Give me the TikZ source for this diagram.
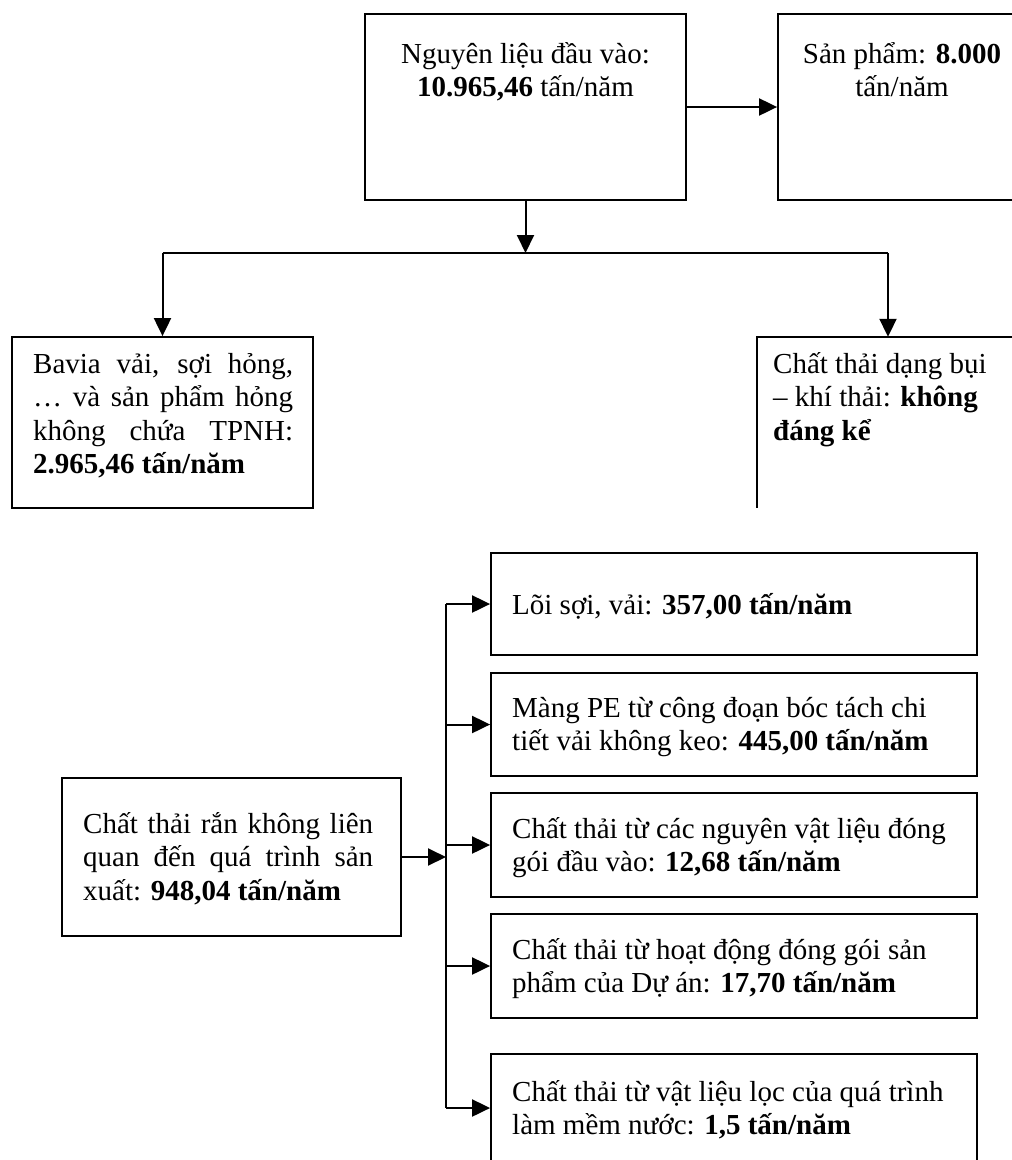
\documentclass[tikz,border=0pt]{standalone}
\usepackage{fontspec}
\setmainfont{Liberation Serif}
\usetikzlibrary{arrows.meta}
\newcommand\bodyfont{\fontsize{29}{33.5}\selectfont}
\begin{document}
\begin{tikzpicture}[x=1pt,y=-1pt,
  box/.style={draw, line width=1.8pt, rectangle, inner sep=0pt},
  openbox/.style={rectangle, inner sep=0pt},
  edge/.style={line width=1.8pt},
  txt/.style={inner sep=0pt, font=\bodyfont},
  wire/.style={line width=2pt},
  conn/.style={line width=2pt, -{Triangle[length=18pt,width=17pt]}}]
\useasboundingbox (0,0) rectangle (1012,1160);
\fill[white] (0,0) rectangle (1012,1160);
\clip (0,0) rectangle (1012,1160);

% upper part: raw material, product and the two first outputs
\node[box, minimum width=321pt, minimum height=186pt] (A) at (525.5,107) {};
\node[box, minimum width=248pt, minimum height=186pt] (B) at (902,107) {};
\node[box, minimum width=301pt, minimum height=171pt] (C) at (162.5,422.5) {};
\node[openbox, minimum width=262pt, minimum height=171pt] (D) at (888,422.5) {};
\draw[edge] (D.north east) -- (D.north west) -- (D.south west);

\node[txt, anchor=base] (At) at (525.5,63) {\parbox[t]{320pt}{\centering
  Nguyên liệu đầu vào:\\\textbf{10.965,46} tấn/năm}};
\node[txt, anchor=base] (Bt) at (902,63) {\parbox[t]{246pt}{\centering
  Sản phẩm: \textbf{8.000}\\tấn/năm}};
\node[txt, anchor=base west] (Ct) at (33,373) {\parbox[t]{260pt}{%
  \makebox[260pt][s]{Bavia vải, sợi hỏng,}\\
  \makebox[260pt][s]{… và sản phẩm hỏng}\\
  \makebox[260pt][s]{không chứa TPNH:}\\
  \textbf{2.965,46 tấn/năm}}};
\node[txt, anchor=base west] (Dt) at (773,373) {\parbox[t]{240pt}{\raggedright
  Chất thải dạng bụi\\– khí thải: \textbf{không}\\\textbf{đáng kể}}};

\coordinate (j) at (525.5,253);
\coordinate (jl) at (162.5,253);
\coordinate (jr) at (888,253);
\draw[conn] (A) -- (B);
\draw[conn] (A.south) -- (j);
\draw[wire] (jl) -- (jr);
\draw[conn] (jl) -- (C.north);
\draw[conn] (jr) -- (D.north);

% lower part: solid waste and its breakdown
\node[box, minimum width=339pt, minimum height=158pt] (E) at (231.5,857) {};
\node[box, minimum width=486pt, minimum height=102pt] (F1) at (734,604) {};
\node[box, minimum width=486pt, minimum height=103pt] (F2) at (734,724.5) {};
\node[box, minimum width=486pt, minimum height=104pt] (F3) at (734,845) {};
\node[box, minimum width=486pt, minimum height=104pt] (F4) at (734,966) {};
\node[box, minimum width=486pt, minimum height=108pt] (F5) at (734,1108) {};

\node[txt, anchor=base west] (Et) at (83,833) {\parbox[t]{300pt}{%
  \makebox[290pt][s]{Chất thải rắn không liên}\\
  \makebox[290pt][s]{quan đến quá trình sản}\\
  xuất: \textbf{948,04 tấn/năm}}};
\node[txt, anchor=base west] (F1t) at (512,614) {\parbox[t]{470pt}{\raggedright
  Lõi sợi, vải: \textbf{357,00 tấn/năm}}};
\node[txt, anchor=base west] (F2t) at (512,717) {\parbox[t]{470pt}{\raggedright
  Màng PE từ công đoạn bóc tách chi\\tiết vải không keo: \textbf{445,00 tấn/năm}}};
\node[txt, anchor=base west] (F3t) at (512,838) {\parbox[t]{470pt}{\raggedright
  Chất thải từ các nguyên vật liệu đóng\\gói đầu vào: \textbf{12,68 tấn/năm}}};
\node[txt, anchor=base west] (F4t) at (512,959) {\parbox[t]{470pt}{\raggedright
  Chất thải từ hoạt động đóng gói sản\\phẩm của Dự án: \textbf{17,70 tấn/năm}}};
\node[txt, anchor=base west] (F5t) at (512,1101) {\parbox[t]{470pt}{\raggedright
  Chất thải từ vật liệu lọc của quá trình\\làm mềm nước: \textbf{1,5 tấn/năm}}};

\coordinate (bt) at (446,604);
\coordinate (bb) at (446,1108);
\draw[wire] (bt) -- (bb);
\draw[conn] (E.east) -- (E.east -| bt);
\foreach \f in {F1,F2,F3,F4,F5}
  \draw[conn] (\f.west -| bt) -- (\f.west);
\end{tikzpicture}
\end{document}
